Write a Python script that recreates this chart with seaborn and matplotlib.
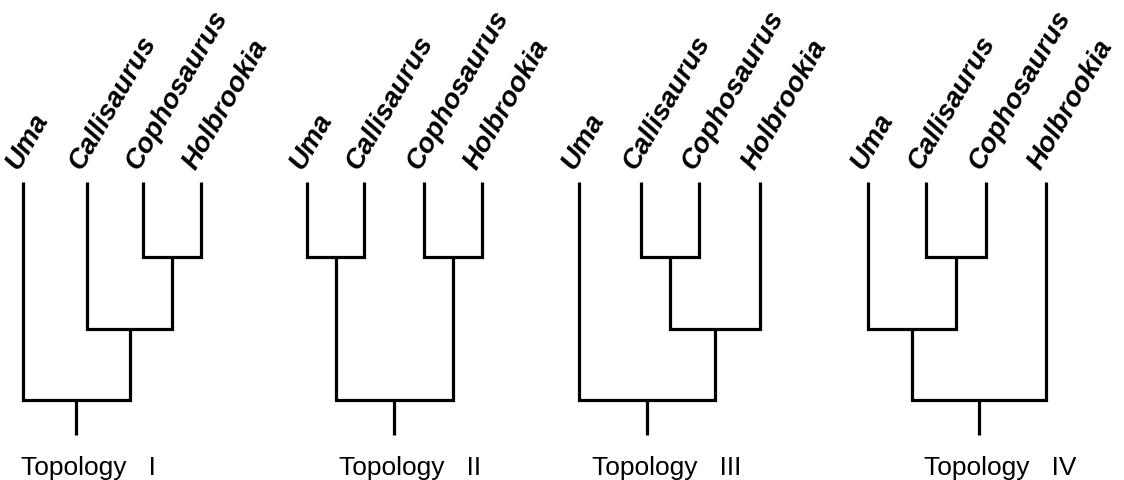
import numpy as np
import pandas as pd
import matplotlib
matplotlib.use("Agg")
import matplotlib.pyplot as plt
import seaborn as sns

# -----------------------------
# Data
# -----------------------------
taxa = ["Uma", "Callisaurus", "Cophosaurus", "Holbrookia"]
topology_names = ["I", "II", "III", "IV"]

# tip positions (x) of the four taxa in each panel
tips_I = [23, 87, 143, 201]
tips_II = [307, 364, 424, 482]
tips_III = [579, 641, 699, 760]
tips_IV = [868, 926, 986, 1046]

# tree shapes, as nested pairs of taxon indices
tree_I = (0, (1, (2, 3)))
tree_II = ((0, 1), (2, 3))
tree_III = (0, ((1, 2), 3))
tree_IV = ((0, (1, 2)), 3)

tip_top = 183          # top of tip branches
join_y = [258, 330, 401]  # heights of nodes by level (root uses the last)
root_bottom = 436

# -----------------------------
# Build segments from trees
# -----------------------------
def walk(node, xs, rows, topo, is_root=False):
    if isinstance(node, int):
        return xs[node], 0, tip_top
    a = walk(node[0], xs, rows, topo)
    b = walk(node[1], xs, rows, topo)
    level = len(join_y) if is_root else max(a[1], b[1]) + 1
    y = join_y[level - 1]
    seg = f"{topo}-{len(rows)}"
    for px, py in [(a[0], a[2]), (a[0], y), (b[0], y), (b[0], b[2])]:
        rows.append({"seg": seg, "x": px, "y": py})
    return (a[0] + b[0]) / 2, level, y


rows = []
roots = []
for name, tips, tree in zip(topology_names,
                            [tips_I, tips_II, tips_III, tips_IV],
                            [tree_I, tree_II, tree_III, tree_IV]):
    rx, _, ry = walk(tree, tips, rows, name, is_root=True)
    seg = f"{name}-root"
    rows.append({"seg": seg, "x": rx, "y": ry})
    rows.append({"seg": seg, "x": rx, "y": root_bottom})
    roots.append(rx)

df = pd.DataFrame(rows)

# -----------------------------
# Plot
# -----------------------------
sns.set_theme(style="white")
fig = plt.figure(figsize=(11.24, 4.81), dpi=100)
ax = fig.add_axes([0, 0, 1, 1])

sns.lineplot(data=df, x="x", y="y", units="seg", estimator=None, sort=False,
             color="black", lw=2.3, ax=ax, legend=False)
for line in ax.get_lines():
    line.set_solid_joinstyle("miter")
    line.set_solid_capstyle("butt")

for name, tips, rx in zip(topology_names,
                          [tips_I, tips_II, tips_III, tips_IV], roots):
    for taxon, tx in zip(taxa, tips):
        ax.text(tx - 5, 171, taxon, rotation=60, rotation_mode="anchor",
                ha="left", va="baseline", fontsize=20, fontweight="bold",
                fontstyle="italic", family="Liberation Sans", color="black")
    ax.text(rx - 55, 475, f"Topology   {name}", ha="left", va="baseline",
            fontsize=19, family="Liberation Sans", color="black")

ax.set_xlim(0, 1124)
ax.set_ylim(481, 0)
ax.axis("off")

plt.savefig("out.png", dpi=100, facecolor="white")
